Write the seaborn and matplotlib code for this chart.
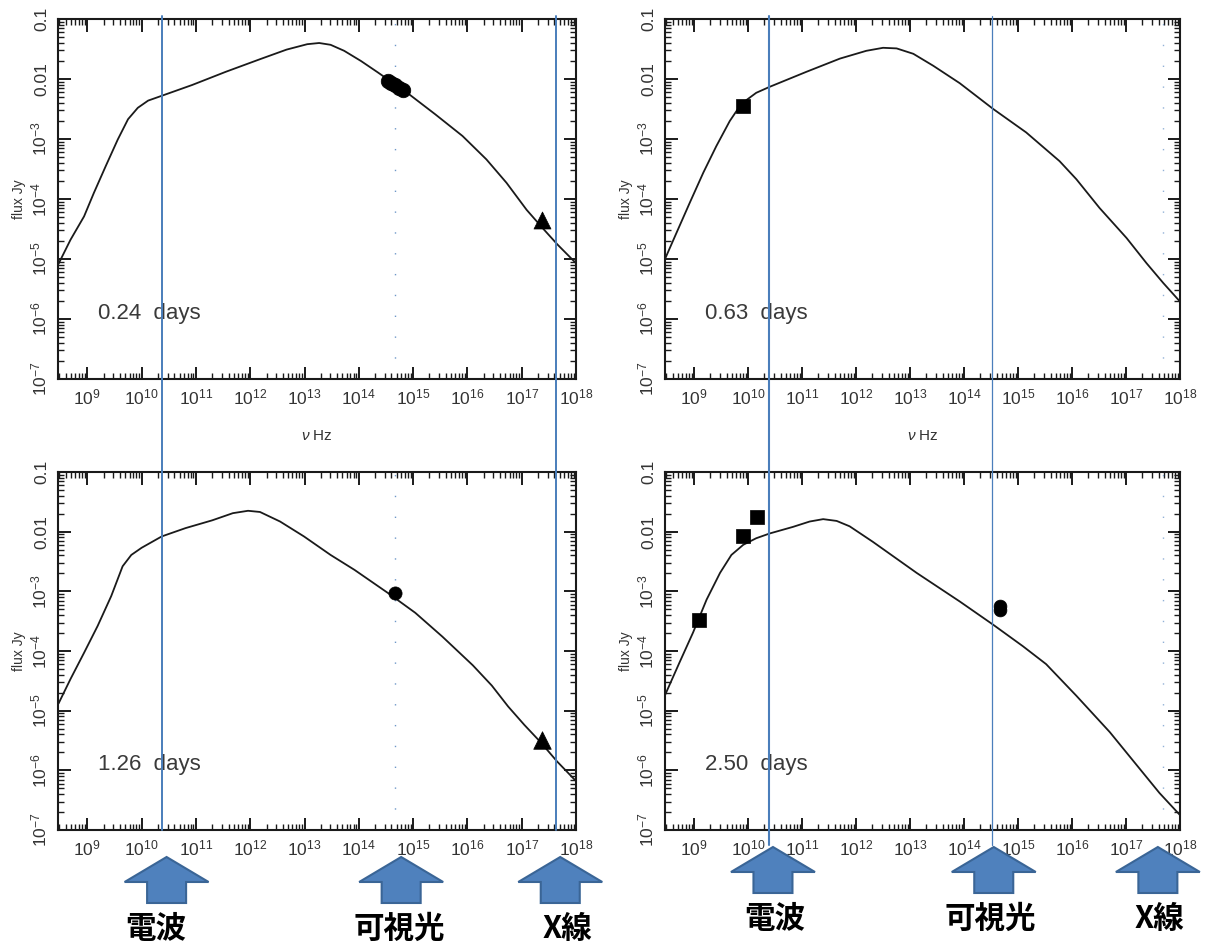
import numpy as np
import pandas as pd
import matplotlib
matplotlib.use("Agg")
import matplotlib.pyplot as plt
import seaborn as sns
from matplotlib.patches import Polygon
from matplotlib.lines import Line2D
from matplotlib.ticker import FixedLocator, FixedFormatter, LogLocator, NullFormatter
from matplotlib.transforms import blended_transform_factory

# ---------------- data ----------------
day_labels = ["0.24  days", "0.63  days", "1.26  days", "2.50  days"]

# model curves: log10(nu / Hz), log10(flux / Jy)
p1_lognu = [8.47, 8.69, 8.94, 9.12, 9.34, 9.56, 9.75, 9.93, 10.12, 10.37, 10.93, 11.55, 12.18, 12.67,
            13.05, 13.27, 13.48, 13.73, 14.04, 14.35, 14.92, 15.41, 15.91, 16.35, 16.72, 17.09,
            17.41, 17.66, 18.0]
p1_logf = [-5.08, -4.68, -4.29, -3.90, -3.45, -3.01, -2.67, -2.48, -2.36, -2.28, -2.10, -1.88, -1.67, -1.51,
           -1.42, -1.40, -1.43, -1.53, -1.70, -1.89, -2.25, -2.59, -2.95, -3.34, -3.73, -4.18,
           -4.51, -4.76, -5.07]

p2_lognu = [8.46, 8.67, 8.92, 9.17, 9.41, 9.66, 9.81, 9.97, 10.15, 10.40, 11.08, 11.70, 12.19, 12.50,
            12.75, 13.06, 13.43, 13.92, 14.54, 15.15, 15.77, 16.08, 16.51, 17.01, 17.38, 17.69, 18.0]
p2_logf = [-5.00, -4.57, -4.06, -3.56, -3.12, -2.70, -2.50, -2.35, -2.23, -2.13, -1.88, -1.66, -1.53, -1.48,
           -1.49, -1.58, -1.78, -2.07, -2.50, -2.89, -3.37, -3.67, -4.15, -4.65, -5.07, -5.40, -5.71]

p3_lognu = [8.47, 8.69, 8.94, 9.19, 9.44, 9.65, 9.81, 10.0, 10.37, 10.81, 11.30, 11.68, 11.96, 12.18,
            12.55, 12.99, 13.48, 13.92, 14.54, 15.04, 15.54, 16.10, 16.45, 16.75, 17.05, 17.35,
            17.65, 18.0]
p3_logf = [-4.88, -4.47, -4.03, -3.58, -3.08, -2.58, -2.39, -2.27, -2.08, -1.94, -1.81, -1.69, -1.65, -1.67,
           -1.83, -2.08, -2.39, -2.64, -3.03, -3.36, -3.76, -4.24, -4.58, -4.93, -5.24, -5.53,
           -5.85, -6.18]

p4_lognu = [8.46, 8.73, 8.98, 9.23, 9.48, 9.69, 9.91, 10.15, 10.40, 10.83, 11.14, 11.39, 11.64, 11.88,
            12.31, 13.12, 13.92, 14.54, 15.09, 15.52, 16.08, 16.70, 17.25, 17.62, 18.0]
p4_logf = [-4.74, -4.19, -3.69, -3.14, -2.69, -2.39, -2.22, -2.11, -2.03, -1.92, -1.83, -1.79, -1.82, -1.91,
           -2.17, -2.69, -3.17, -3.56, -3.92, -4.22, -4.75, -5.36, -5.97, -6.38, -6.75]

# observed points
p1_circ_nu = [3.5e14, 4.0e14, 4.7e14, 5.4e14, 6.6e14]
p1_circ_f = [9.3e-3, 8.7e-3, 7.8e-3, 7.2e-3, 6.5e-3]
p1_tri_nu = [2.35e17]
p1_tri_f = [4.4e-5]
p2_sq_nu = [8.1e9]
p2_sq_f = [3.5e-3]
p3_circ_nu = [4.7e14]
p3_circ_f = [9.3e-4]
p3_tri_nu = [2.4e17]
p3_tri_f = [3.2e-6]
p4_sq_nu = [1.23e9, 8.1e9, 1.48e10]
p4_sq_f = [3.3e-4, 8.3e-3, 1.78e-2]
p4_circ_nu = [4.6e14, 4.6e14]
p4_circ_f = [4.9e-4, 5.6e-4]

xtick_vals = [1e9, 1e10, 1e11, 1e12, 1e13, 1e14, 1e15, 1e16, 1e17, 1e18]
xtick_labels = [r"$10^{9}$", r"$10^{10}$", r"$10^{11}$", r"$10^{12}$", r"$10^{13}$",
                r"$10^{14}$", r"$10^{15}$", r"$10^{16}$", r"$10^{17}$", r"$10^{18}$"]
ytick_vals = [1e-7, 1e-6, 1e-5, 1e-4, 1e-3, 1e-2, 1e-1]
ytick_labels = [r"$10^{-7}$", r"$10^{-6}$", r"$10^{-5}$", r"$10^{-4}$", r"$10^{-3}$", "0.01", "0.1"]

band_names = ["電波", "可視光", "X線"]
# band marker lines (Hz): left column, right column
lines_left = [10**10.37, 10**17.64]
lines_right = [10**10.39, 10**14.52]
faint_left = [10**14.67]
faint_right = [10**17.69]
# arrow frequencies (Hz)
arrows_left = [10**10.46, 10**14.78, 10**17.71]
arrows_right = [10**10.46, 10**14.55, 10**17.59]

# ---------------- style ----------------
sns.set_theme(style="ticks")
plt.rcParams["font.family"] = ["Liberation Sans", "DejaVu Sans"]
plt.rcParams["mathtext.fontset"] = "custom"
plt.rcParams["mathtext.rm"] = "Liberation Sans"
plt.rcParams["mathtext.it"] = "Liberation Sans:italic"
plt.rcParams["mathtext.bf"] = "Liberation Sans:bold"

W, H = 1216, 951
fig = plt.figure(figsize=(W / 100, H / 100), dpi=100)

def rect(l, t, r, b):
    return [l / W, 1 - b / H, (r - l) / W, (b - t) / H]

ax1 = fig.add_axes(rect(58, 19, 576, 379))
ax2 = fig.add_axes(rect(665, 19, 1180, 379))
ax3 = fig.add_axes(rect(58, 472, 576, 830))
ax4 = fig.add_axes(rect(665, 472, 1180, 830))
axes = [ax1, ax2, ax3, ax4]
xmins = [10**8.46, 10**8.46, 10**8.46, 10**8.46]

curves = [(p1_lognu, p1_logf), (p2_lognu, p2_logf), (p3_lognu, p3_logf), (p4_lognu, p4_logf)]
BLUE = "#4A7EBB"
INK = "#1a1a1a"
LAB = "#333333"

def pts(ax, nu, f, marker, s):
    d = pd.DataFrame({"nu": nu, "flux": f})
    sns.scatterplot(data=d, x="nu", y="flux", ax=ax, marker=marker, s=s, color="black",
                    edgecolor="black", linewidth=0.5, zorder=5, legend=False)

for i, ax in enumerate(axes):
    ax.set_xscale("log")
    ax.set_yscale("log")
    lx, lf = curves[i]
    df = pd.DataFrame({"nu": 10 ** np.array(lx), "flux": 10 ** np.array(lf)})
    sns.lineplot(data=df, x="nu", y="flux", ax=ax, color=INK, lw=1.3, estimator=None, sort=True)

pts(ax1, p1_circ_nu, p1_circ_f, "o", 110)
pts(ax1, p1_tri_nu, p1_tri_f, "^", 150)
pts(ax2, p2_sq_nu, p2_sq_f, "s", 110)
pts(ax3, p3_circ_nu, p3_circ_f, "o", 90)
pts(ax3, p3_tri_nu, p3_tri_f, "^", 160)
pts(ax4, p4_sq_nu, p4_sq_f, "s", 110)
pts(ax4, p4_circ_nu, p4_circ_f, "o", 85)

for i, ax in enumerate(axes):
    ax.set_xlim(xmins[i], 1e18)
    ax.set_ylim(1e-7, 0.1)
    ax.xaxis.set_major_locator(FixedLocator(xtick_vals))
    ax.xaxis.set_major_formatter(FixedFormatter(xtick_labels))
    ax.xaxis.set_minor_locator(LogLocator(base=10, subs=np.arange(2, 10), numticks=30))
    ax.xaxis.set_minor_formatter(NullFormatter())
    ax.yaxis.set_major_locator(FixedLocator(ytick_vals))
    ax.yaxis.set_major_formatter(FixedFormatter(ytick_labels))
    ax.yaxis.set_minor_locator(LogLocator(base=10, subs=np.arange(2, 10), numticks=30))
    ax.yaxis.set_minor_formatter(NullFormatter())
    ax.tick_params(which="both", direction="in", top=True, right=True, colors=INK, labelcolor=LAB)
    ax.tick_params(which="major", length=9, width=1.4, labelsize=12.5, pad=6)
    ax.tick_params(which="minor", length=4.5, width=1.0)
    for lab in ax.get_yticklabels():
        lab.set_rotation(90)
        lab.set_va("center")
    for s in ax.spines.values():
        s.set_linewidth(1.5)
        s.set_color(INK)
    ax.set_ylabel("flux Jy", fontsize=10, color=LAB, labelpad=3)
    ax.set_xlabel("")
    ax.text(0.077, 0.183, day_labels[i], transform=ax.transAxes, fontsize=16,
            color="#3a3a3a", va="center", ha="left")

ax1.set_xlabel(r"$\nu$ Hz", fontsize=11, color=LAB, labelpad=16)
ax2.set_xlabel(r"$\nu$ Hz", fontsize=11, color=LAB, labelpad=16)

# faint dotted band remnants
for ax in (ax1, ax3):
    for f in faint_left:
        ax.axvline(f, color=BLUE, lw=1.0, ls=(0, (1, 14)), alpha=0.8)
for ax in (ax2, ax4):
    for f in faint_right:
        ax.axvline(f, color=BLUE, lw=1.0, ls=(0, (1, 14)), alpha=0.6)

# long blue lines spanning both rows
y_top = 1 - 16 / H
for f in lines_left:
    tr = blended_transform_factory(ax1.transData, fig.transFigure)
    fig.add_artist(Line2D([f, f], [1 - 830 / H, y_top], transform=tr, color=BLUE, lw=1.4, zorder=10))
for k, f in enumerate(lines_right):
    tr = blended_transform_factory(ax2.transData, fig.transFigure)
    fig.add_artist(Line2D([f, f], [1 - 845 / H, y_top], transform=tr, color=BLUE,
                          lw=1.5 if k == 0 else 0.9, zorder=10))

# block arrows + labels
shape = [(0, 0), (42, 25), (19.5, 25), (19.5, 46), (-19.5, 46), (-19.5, 25), (-42, 25)]

def arrow(ax, f, tip_y, text_y, text_dx, name):
    cx = ax.transData.transform((f, 1e-3))[0]
    verts = [((cx + dx) / W, 1 - (tip_y + dy) / H) for dx, dy in shape]
    fig.add_artist(Polygon(verts, closed=True, facecolor="#4F81BD", edgecolor="#3A6596",
                           lw=1.5, transform=fig.transFigure))
    fig.text((cx + text_dx) / W, 1 - text_y / H, name, ha="center", va="center", fontsize=22,
             fontweight="bold", family=["Noto Sans CJK JP", "DejaVu Sans"], color="black")

fig.canvas.draw()
left_dx = [-11, -2, 7]
right_dx = [2, -3, 1]
for f, name, dx in zip(arrows_left, band_names, left_dx):
    arrow(ax3, f, 857, 929, dx, name)
for f, name, dx in zip(arrows_right, band_names, right_dx):
    arrow(ax4, f, 847, 919, dx, name)

fig.savefig("out.png", dpi=100, facecolor="white")
